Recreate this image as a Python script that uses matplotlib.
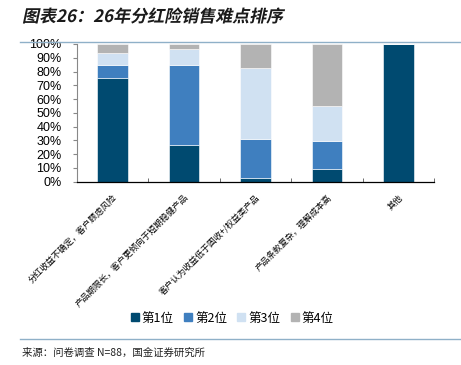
import matplotlib
matplotlib.use("Agg")
import matplotlib.pyplot as plt
import numpy as np
from matplotlib.lines import Line2D
from matplotlib.textpath import TextPath
from matplotlib.font_manager import FontProperties
from matplotlib.patches import PathPatch
from matplotlib.transforms import Affine2D

plt.rcParams['font.family'] = ['Liberation Sans', 'Noto Sans CJK SC', 'DejaVu Sans']

# 数据
categories = ["分红收益不确定，客户顾虑风险",
              "产品期限长，客户更倾向于短期稳健产品",
              "客户认为收益低于固收+/权益类产品",
              "产品条款复杂，理解成本高",
              "其他"]
rank1 = [75.5, 26.4, 2.9, 9.4, 100.0]
rank2 = [9.2, 58.6, 28.3, 19.9, 0.0]
rank3 = [9.0, 11.4, 51.6, 25.7, 0.0]
rank4 = [6.3, 3.6, 17.2, 45.0, 0.0]
series_names = ["第1位", "第2位", "第3位", "第4位"]
colors = ["#004A70", "#3F7FBF", "#D0E1F2", "#B3B3B3"]

W, H = 461, 365
fig = plt.figure(figsize=(W / 100, H / 100), dpi=100)
ax = fig.add_axes([77 / W, 1 - 181.7 / H, (434 - 77) / W, (181.7 - 44) / H])

x = np.arange(len(categories))
bottom = np.zeros(len(categories))
for vals, name, c in zip([rank1, rank2, rank3, rank4], series_names, colors):
    ax.bar(x, vals, width=0.43, bottom=bottom, color=c, label=name,
           edgecolor="white", linewidth=0.4)
    bottom += np.array(vals)

ax.set_xlim(-0.5, len(categories) - 0.5)
ax.set_ylim(0, 100)
ax.set_yticks(np.arange(0, 101, 10))
ax.set_yticklabels([f"{v}%" for v in range(0, 101, 10)], fontsize=9)
ax.tick_params(axis='y', length=3, color="#888888", pad=8)

ax.set_xticks(x)
ax.set_xticklabels(categories, rotation=45, ha='right', rotation_mode='anchor',
                   fontsize=6.2, family=['Noto Sans CJK SC', 'DejaVu Sans'])
ax.tick_params(axis='x', length=0, pad=8)
ax.set_xticks(np.arange(0.5, len(categories), 1), minor=True)
ax.tick_params(axis='x', which='minor', length=3, direction='in', color='#555555')

for s in ['top', 'right']:
    ax.spines[s].set_visible(False)
ax.spines['left'].set_color("#888888")
ax.spines['left'].set_linewidth(0.8)
ax.spines['bottom'].set_color("black")
ax.spines['bottom'].set_linewidth(0.9)

# 图例
handles = [Line2D([0], [0], marker='s', linestyle='', markersize=6,
                  markerfacecolor=c, markeredgecolor=c) for c in colors]
fig.legend(handles, series_names, loc='center', bbox_to_anchor=(232 / W, 1 - 318 / H),
           ncol=4, frameon=False, handlelength=0.7, handletextpad=0.2,
           columnspacing=0.8,
           prop={'family': ['Noto Sans CJK SC', 'DejaVu Sans'], 'size': 9})

# 标题（斜体效果）
title = "图表26：26年分红险销售难点排序"
tp = TextPath((0, 0), title, size=17,
              prop=FontProperties(family='Noto Sans CJK SC', weight='bold'))
tr = Affine2D().skew_deg(12, 0).translate(22, H - 22)
fig.add_artist(PathPatch(tr.transform_path(tp), transform=None,
                         facecolor="#1a1a1a", edgecolor="none"))

fig.add_artist(Line2D([20 / W, 1], [1 - 41.5 / H, 1 - 41.5 / H],
                      color="#8FB0C8", linewidth=1.0))
fig.add_artist(Line2D([20 / W, 1], [1 - 338.5 / H, 1 - 338.5 / H],
                      color="#8FB0C8", linewidth=1.0))
fig.text(22 / W, 1 - 353 / H, "来源：问卷调查 N=88，国金证券研究所", fontsize=7.5,
         color="#222222", va='center', family=['Noto Sans CJK SC', 'DejaVu Sans'])

fig.savefig("out.png", dpi=100)
